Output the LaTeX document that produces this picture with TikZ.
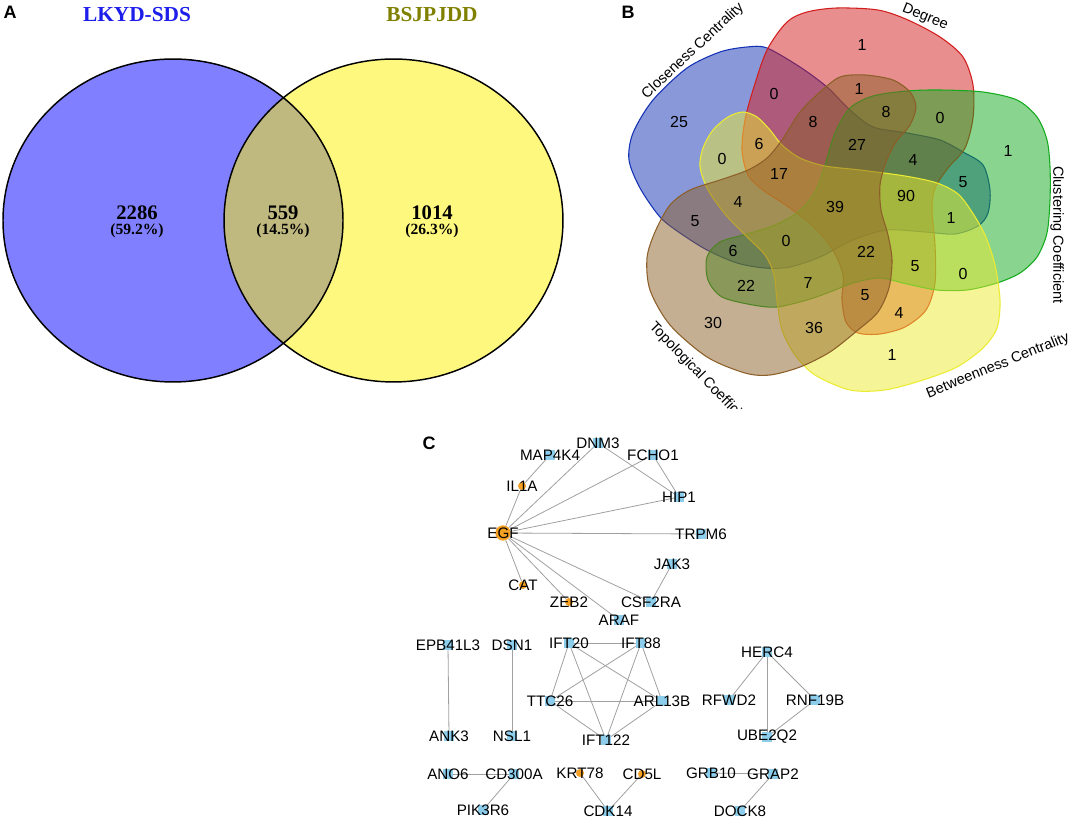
\documentclass[tikz,border=0pt]{standalone}
\usepackage{fontspec}
\setmainfont{Liberation Sans}
\newfontfamily\romanA{Liberation Serif}
\usetikzlibrary{backgrounds}

\definecolor{lkblue}{RGB}{30,30,235}
\definecolor{bsolive}{RGB}{128,128,0}
\definecolor{vblue}{RGB}{20,50,180}
\definecolor{vred}{RGB}{210,30,30}
\definecolor{vgreen}{RGB}{20,170,30}
\definecolor{vyellow}{RGB}{235,235,50}
\definecolor{vbrown}{RGB}{140,95,40}
\definecolor{orng}{RGB}{245,160,35}
\definecolor{skyb}{RGB}{140,205,235}
\definecolor{edgegray}{RGB}{160,160,160}

\tikzset{
  panel/.style={font=\bfseries\fontsize{13.5}{16}\selectfont},
  atitle/.style={font=\romanA\bfseries\fontsize{16}{18}\selectfont},
  anum/.style={font=\romanA\bfseries\fontsize{15.5}{17}\selectfont},
  apct/.style={font=\romanA\bfseries\fontsize{11.7}{13}\selectfont},
  vset/.style={line width=0.8pt, fill opacity=.5},
  vnum/.style={font=\fontsize{12}{14}\selectfont},
  setlbl/.style={font=\fontsize{10.9}{13}\selectfont},
  gnode/.style={draw=none, inner sep=0pt},
  sq/.style={gnode, rectangle, fill=skyb, minimum size=7pt},
  dot/.style={gnode, circle, fill=orng, minimum size=6pt},
  hub/.style={gnode, circle, fill=orng, minimum size=11.5pt},
  glbl/.style={font=\fontsize{11.4}{13}\selectfont, inner sep=0pt},
  gedge/.style={draw=edgegray, line width=0.6pt}
}

\begin{document}
\begin{tikzpicture}[x=0.75pt,y=-0.75pt]
  \useasboundingbox (0,0) rectangle (1072,820);

  % panel A
  \node[panel] (labA) at (10,12) {A};
  \node[atitle,text=lkblue] (titL) at (137,15) {LKYD-SDS};
  \node[atitle,text=bsolive] (titR) at (432,15) {BSJPJDD};
  \fill[blue,fill opacity=.5] (173,220.5) ellipse [x radius=127.5pt, y radius=121.1pt];
  \fill[yellow,fill opacity=.5] (393.5,220.5) ellipse [x radius=127.1pt, y radius=121.1pt];
  \draw[line width=1.1pt] (173,220.5) ellipse [x radius=127.5pt, y radius=121.1pt];
  \draw[line width=1.1pt] (393.5,220.5) ellipse [x radius=127.1pt, y radius=121.1pt];
  \node[anum] (aL) at (137,213) {2286};
  \node[apct] (aLp) at (137,231) {(59.2\%)};
  \node[anum] (aM) at (283,213) {559};
  \node[apct] (aMp) at (283,231) {(14.5\%)};
  \node[anum] (aR) at (432,213) {1014};
  \node[apct] (aRp) at (432,231) {(26.3\%)};

  % panel B
  \node[panel] (labB) at (628,12) {B};
  \draw[vset,draw=vblue,fill=vblue] plot[smooth cycle] coordinates {
    (767,48) (800,67) (827,87) (850,110) (873,127) (907,133) (940,140)
    (963,152) (983,165) (990,190) (988,213) (978,226) (955,234) (925,232)
    (887,230) (853,240) (820,257) (790,267) (765,268) (737,263) (707,250)
    (680,233) (660,217) (640,188) (629,160) (633,133) (653,100) (687,68)
    (720,52) (747,47)};
  \draw[vset,draw=vred,fill=vred] plot[smooth cycle] coordinates {
    (767,50) (787,22) (807,12) (837,8) (878,10) (908,20) (940,37)
    (963,57) (973,85) (973,118) (965,148) (948,168) (935,188) (932,210)
    (935,245) (935,283) (926,310) (905,327) (880,334) (858,333) (846,322)
    (842,300) (843,275) (833,250) (815,228) (790,208) (763,190) (748,175)
    (742,150) (745,120) (753,90)};
  \draw[vset,draw=vgreen,fill=vgreen] plot[smooth cycle] coordinates {
    (850,108) (873,96) (907,91) (940,90) (983,92) (1017,100) (1037,117)
    (1047,140) (1050,167) (1050,200) (1047,233) (1037,257) (1020,273)
    (997,283) (967,290) (937,290) (907,284) (880,278) (853,283) (830,292)
    (807,300) (777,307) (753,305) (722,297) (708,280) (707,257) (720,242)
    (747,234) (775,225) (798,212) (815,192) (825,165) (835,133)};
  \draw[vset,draw=vyellow,fill=vyellow] plot[smooth cycle] coordinates {
    (743,112) (757,117) (770,130) (782,145) (800,158) (825,166) (860,170)
    (905,176) (937,183) (958,194) (972,212) (985,235) (995,265) (1000,300)
    (997,328) (983,348) (957,367) (923,380) (885,390) (850,390) (815,375)
    (795,355) (782,330) (777,300) (774,275) (765,255) (745,235) (725,214)
    (708,190) (700,167) (703,148) (713,130) (728,117)};
  \draw[vset,draw=vbrown,fill=vbrown] plot[smooth cycle] coordinates {
    (840,77) (865,75) (893,80) (910,92) (916,107) (910,125) (896,142)
    (886,162) (880,185) (881,210) (888,235) (892,260) (889,288) (878,312)
    (858,330) (830,352) (800,367) (770,375) (745,373) (707,357) (670,325)
    (650,290) (647,258) (655,232) (670,205) (690,190) (720,180) (748,170)
    (767,158) (782,140) (800,112) (820,92)};

  \foreach \x/\y/\t [count=\i] in {679/122/25, 862/45/1, 1008/151/1,
      892/355/1, 713/323/30, 774/94/0, 859/89/1, 813/122/8, 886/112/8,
      940/118/0, 857/145/27, 913/160/4, 963/182/5, 906/196/90, 951/218/1,
      759/144/6, 722/159/0, 779/174/17, 738/202/4, 695/221/5, 835/207/39,
      733/251/6, 786/241/0, 866/252/22, 915/266/5, 963/274/0, 746/286/22,
      808/283/7, 865/295/5, 899/313/4, 814/328/36}
    \node[vnum] (v\i) at (\x,\y) {\t};

  \node[setlbl,rotate=43] (sClo) at (693,51) {Closeness Centrality};
  \node[setlbl,rotate=-22] (sDeg) at (925,17) {Degree};
  \node[setlbl,rotate=-90] (sClu) at (1057,235) {Clustering Coefficient};
  \node[setlbl,rotate=22] (sBet) at (998,366) {Betweenness Centrality};
  \begin{scope}
    \clip (600,0) rectangle (1072,408);
    \node[setlbl,rotate=-46] (sTop) at (702,377) {Topological Coefficient};
  \end{scope}

  % panel C
  \node[panel] (labC) at (429,443) {C};
  \node[hub, label={[glbl]center:EGF}] (egf) at (503,533) {};
  \node[dot, label={[glbl]center:IL1A}] (il1a) at (522,486) {};
  \node[sq, label={[glbl]center:MAP4K4}] (map) at (550,455) {};
  \node[sq, label={[glbl]center:DNM3}] (dnm) at (598,443) {};
  \node[sq, label={[glbl]center:FCHO1}] (fcho) at (653,455) {};
  \node[sq, label={[glbl]center:HIP1}] (hip) at (679,497) {};
  \node[sq, label={[glbl]center:TRPM6}] (trpm) at (701,534) {};
  \node[sq, label={[glbl]center:JAK3}] (jak) at (672,564) {};
  \node[dot, label={[glbl]center:CAT}] (cat) at (523,585) {};
  \node[sq, label={[glbl]center:CSF2RA}] (csf) at (651,602) {};
  \node[dot, label={[glbl]center:ZEB2}] (zeb) at (569,602) {};
  \node[sq, label={[glbl]center:ARAF}] (araf) at (619,620) {};

  \node[sq, label={[glbl]center:EPB41L3}] (epb) at (448,645) {};
  \node[sq, label={[glbl]center:ANK3}] (ank) at (449,736) {};
  \node[sq, label={[glbl]center:DSN1}] (dsn) at (512,645) {};
  \node[sq, label={[glbl]center:NSL1}] (nsl) at (512,736) {};

  \node[sq, label={[glbl]center:IFT20}] (ift20) at (569,643) {};
  \node[sq, label={[glbl]center:IFT88}] (ift88) at (641,643) {};
  \node[sq, label={[glbl]center:TTC26}] (ttc) at (550,701) {};
  \node[sq, label={[glbl]center:ARL13B}] (arl) at (662,701) {};
  \node[sq, label={[glbl]center:IFT122}] (ift122) at (606,740) {};

  \node[sq, label={[glbl]center:HERC4}] (herc) at (767,652) {};
  \node[sq, label={[glbl]center:RFWD2}] (rfwd) at (729,700) {};
  \node[sq, label={[glbl]center:RNF19B}] (rnf) at (815,700) {};
  \node[sq, label={[glbl]center:UBE2Q2}] (ube) at (767,737) {};

  \node[sq, label={[glbl]center:ANO6}] (ano) at (448,774) {};
  \node[sq, label={[glbl]center:CD300A}] (cd300) at (514,774) {};
  \node[sq, label={[glbl]center:PIK3R6}] (pik) at (483,810) {};
  \node[dot, label={[glbl]center:KRT78}] (krt) at (580,773) {};
  \node[dot, label={[glbl]center:CD5L}] (cd5l) at (642,774) {};
  \node[sq, label={[glbl]center:CDK14}] (cdk) at (608,811) {};
  \node[sq, label={[glbl]center:GRB10}] (grb) at (711,773) {};
  \node[sq, label={[glbl]center:GRAP2}] (grap) at (773,774) {};
  \node[sq, label={[glbl]center:DOCK8}] (dock) at (740,811) {};

  \begin{scope}[on background layer]
    \foreach \a/\b in {egf/il1a, il1a/map, egf/dnm, egf/fcho, egf/hip,
        egf/trpm, egf/cat, egf/zeb, egf/araf, egf/csf, dnm/hip, fcho/hip,
        jak/csf, epb/ank, dsn/nsl, ift20/ift88, ift20/ttc, ift20/arl,
        ift20/ift122, ift88/ttc, ift88/arl, ift88/ift122, ttc/arl,
        ttc/ift122, arl/ift122, herc/rfwd, herc/ube, herc/rnf, rnf/ube,
        ano/cd300, cd300/pik, krt/cdk, cd5l/cdk, grb/grap, grap/dock}
      \draw[gedge] (\a) -- (\b);
  \end{scope}
\end{tikzpicture}
\end{document}
